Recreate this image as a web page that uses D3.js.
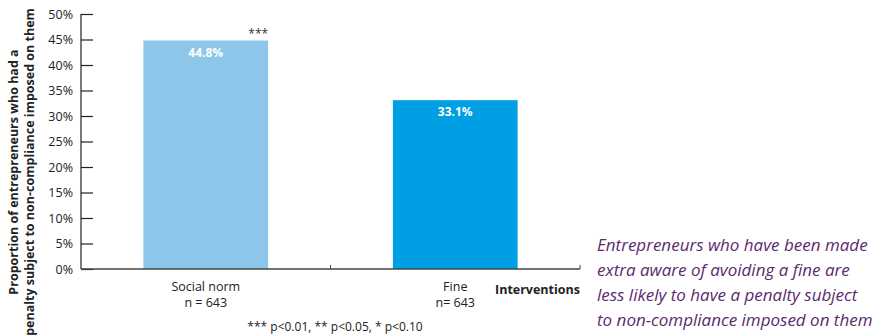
<!DOCTYPE html>
<html>
<head>
<meta charset="utf-8">
<script src="https://cdn.jsdelivr.net/npm/d3@7"></script>
<style>
  html, body { margin: 0; padding: 0; background: #fff; }
  svg { display: block; font-family: "Open Sans", "Noto Sans", sans-serif; }
</style>
</head>
<body>
<svg id="chart" width="883" height="336"></svg>
<script>
// Chart data
const categories = ["Social norm", "Fine"];
const sampleSizes = ["n = 643", "n= 643"];
const values = [0.448, 0.331];
const valueLabels = ["44.8%", "33.1%"];
const significance = ["***", ""];
const yTicks = [0, 0.05, 0.10, 0.15, 0.20, 0.25, 0.30, 0.35, 0.40, 0.45, 0.50];
const barColors = ["#8cc6e8", "#009fe3"];
const yTitleLines = ["Proportion of entrepreneurs who had a", "penalty subject to non-compliance imposed on them"];
const noteLines = [
  "Entrepreneurs who have been made",
  "extra aware of avoiding a fine are",
  "less likely to have a penalty subject",
  "to non-compliance imposed on them"
];
const footnote = "*** p<0.01, ** p<0.05, * p<0.10";

const svg = d3.select("#chart");
const plotLeft = 81, plotRight = 580, plotTop = 14, plotBottom = 269;

const x = d3.scaleBand().domain(categories).range([plotLeft, plotRight])
  .paddingInner(0.5).paddingOuter(0.25);
const y = d3.scaleLinear().domain([0, 0.5]).range([plotBottom, plotTop]);

// Bars
svg.append("g").selectAll("rect").data(categories).join("rect")
  .attr("x", d => x(d))
  .attr("y", (d, i) => y(values[i]))
  .attr("width", x.bandwidth())
  .attr("height", (d, i) => y(0) - y(values[i]))
  .attr("fill", (d, i) => barColors[i]);

// Value labels inside bars
svg.append("g").selectAll("text").data(categories).join("text")
  .attr("x", d => x(d) + x.bandwidth() / 2)
  .attr("y", (d, i) => y(values[i]) + 16)
  .attr("text-anchor", "middle")
  .attr("fill", "#fff")
  .attr("font-weight", "bold")
  .attr("font-size", 12)
  .text((d, i) => valueLabels[i]);

// Significance stars above bars
svg.append("g").selectAll("text").data(categories).join("text")
  .attr("x", d => x(d) + x.bandwidth())
  .attr("y", (d, i) => y(values[i]) - 3)
  .attr("text-anchor", "end")
  .attr("fill", "#333")
  .attr("font-size", 12)
  .text((d, i) => significance[i]);

// Y axis: ticks point into the plot
const yAxis = d3.axisRight(y).tickValues(yTicks).tickSize(12).tickFormat("");
const gy = svg.append("g").attr("transform", `translate(${plotLeft},0)`).call(yAxis);
gy.select(".domain").remove();
gy.selectAll(".tick line").attr("stroke", "#222").attr("stroke-width", 1.2);
svg.append("line").attr("x1", plotLeft).attr("x2", plotLeft).attr("y1", plotTop).attr("y2", plotBottom)
  .attr("stroke", "#222").attr("stroke-width", 1.2);

// Y tick labels
svg.append("g").selectAll("text").data(yTicks).join("text")
  .attr("x", plotLeft - 8)
  .attr("y", d => y(d) + 4.5)
  .attr("text-anchor", "end")
  .attr("fill", "#222")
  .attr("font-size", 12.5)
  .text(d => d3.format(".0%")(d));

// X axis baseline with category boundary ticks
svg.append("line").attr("x1", plotLeft).attr("x2", plotRight).attr("y1", plotBottom).attr("y2", plotBottom)
  .attr("stroke", "#444").attr("stroke-width", 1.5);
const step = x.step();
const boundaries = categories.map(d => x(d) + x.bandwidth() + step * x.paddingInner() / 2);
svg.append("g").selectAll("line").data(boundaries).join("line")
  .attr("x1", d => d).attr("x2", d => d)
  .attr("y1", plotBottom - 4).attr("y2", plotBottom)
  .attr("stroke", "#444").attr("stroke-width", 1);

// Category labels
const catG = svg.append("g").selectAll("g").data(categories).join("g")
  .attr("transform", d => `translate(${x(d) + x.bandwidth() / 2},0)`);
catG.append("text").attr("y", 291).attr("text-anchor", "middle")
  .attr("fill", "#222").attr("font-size", 12.5).text(d => d);
catG.append("text").attr("y", 307).attr("text-anchor", "middle")
  .attr("fill", "#222").attr("font-size", 12.5).text((d, i) => sampleSizes[i]);

// X axis title
svg.append("text").attr("x", plotRight).attr("y", 294).attr("text-anchor", "end")
  .attr("font-weight", "bold").attr("font-size", 12.5).attr("fill", "#222")
  .text("Interventions");

// Footnote
svg.append("text").attr("x", 335).attr("y", 331).attr("text-anchor", "middle")
  .attr("font-size", 12).attr("fill", "#222").text(footnote);

// Y axis title (two rotated lines)
const yt = svg.append("text")
  .attr("transform", "translate(0,172) rotate(-90)")
  .attr("text-anchor", "middle")
  .attr("font-weight", "bold").attr("font-size", 12.5).attr("fill", "#222");
yt.selectAll("tspan").data(yTitleLines).join("tspan")
  .attr("x", 0).attr("y", (d, i) => 18 + i * 16).text(d => d);

// Side note
svg.append("g").selectAll("text").data(noteLines).join("text")
  .attr("x", 597).attr("y", (d, i) => 251 + i * 25)
  .attr("font-style", "italic").attr("font-size", 17)
  .attr("fill", "#5b2a6e").text(d => d);
</script>
</body>
</html>
